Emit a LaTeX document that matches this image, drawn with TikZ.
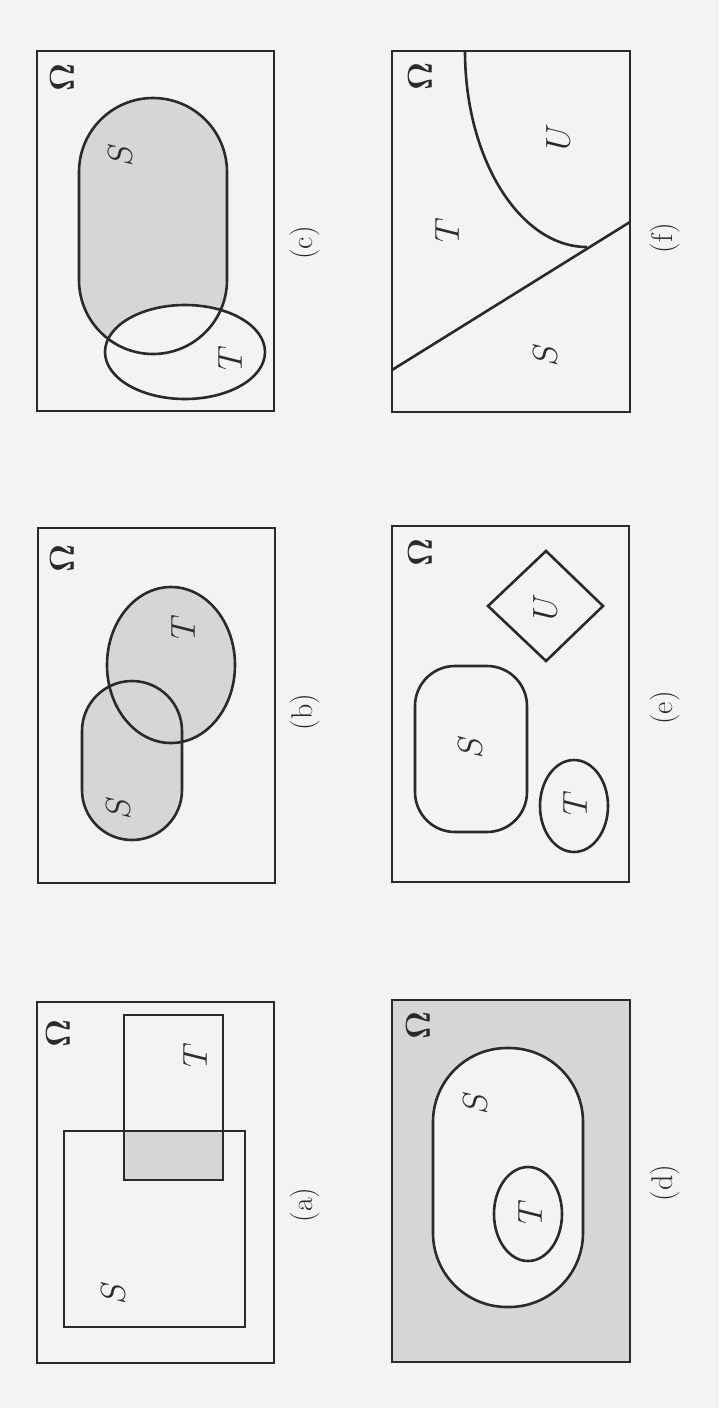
\documentclass[tikz,border=0pt]{standalone}
\definecolor{bgc}{HTML}{F3F3F3}
\definecolor{shgray}{HTML}{D6D6D6}
\definecolor{ink}{HTML}{2A2A2A}
\tikzset{
  frame/.style={draw=ink, line width=1.3pt},
  setline/.style={draw=ink, line width=1.3pt},
  grayfill/.style={fill=shgray},
  lbl/.style={rotate=90, inner sep=0pt, text=ink, font=\fontsize{16}{18}\selectfont},
  omg/.style={rotate=90, inner sep=0pt, text=ink, font=\fontsize{16}{18}\selectfont},
  captxt/.style={rotate=90, inner sep=0pt, text=ink, font=\fontsize{15}{18}\selectfont}
}
\begin{document}
\begin{tikzpicture}[x=0.5pt,y=-0.5pt]
\fill[bgc] (0,0) rectangle (719,1408);
\useasboundingbox (0,0) rectangle (719,1408);

% ---------- (c) ----------
\path[grayfill, rounded corners=37pt] (79,98) rectangle (227,354);
\fill[bgc] (185,352) ellipse [x radius=80, y radius=47];
\draw[setline, rounded corners=37pt] (79,98) rectangle (227,354);
\draw[setline] (185,352) ellipse [x radius=80, y radius=47];
\draw[frame] (37,51) rectangle (274,411);
\node[omg] (omc) at (62,77) {$\mathbf{\Omega}$};
\node[lbl] (sc) at (120,155) {$S$};
\node[lbl] (tc) at (230,358) {$T$};
\node[captxt] (capc) at (305,243) {(c)};

% ---------- (f) ----------
\draw[frame] (392,51) rectangle (630,412);
\draw[setline] (392,370) -- (630,222);
\draw[setline] (465,51) .. controls (465,159) and (520,247) .. (587,247);
\node[omg] (omf) at (420,76) {$\mathbf{\Omega}$};
\node[lbl] (tf) at (447,230) {$T$};
\node[lbl] (uf) at (558,137) {$U$};
\node[lbl] (sf) at (545,355) {$S$};
\node[captxt] (capf) at (665,238) {(f)};

% ---------- (b) ----------
\path[grayfill, rounded corners=25pt] (82,681) rectangle (182,840);
\path[grayfill] (171,665) ellipse [x radius=64, y radius=78];
\draw[setline, rounded corners=25pt] (82,681) rectangle (182,840);
\draw[setline] (171,665) ellipse [x radius=64, y radius=78];
\draw[frame] (38,528) rectangle (275,883);
\node[omg] (omb) at (62,558) {$\mathbf{\Omega}$};
\node[lbl] (sb) at (118,808) {$S$};
\node[lbl] (tb) at (183,627) {$T$};
\node[captxt] (capb) at (305,712) {(b)};

% ---------- (e) ----------
\draw[frame] (392,526) rectangle (629,882);
\draw[setline] (546,551) -- (603,606) -- (546,661) -- (488,606) -- cycle;
\draw[setline, rounded corners=20pt] (415,666) rectangle (527,832);
\draw[setline] (574,806) ellipse [x radius=34, y radius=46];
\node[omg] (ome) at (420,552) {$\mathbf{\Omega}$};
\node[lbl] (ue) at (545,607) {$U$};
\node[lbl] (se) at (470,747) {$S$};
\node[lbl] (te) at (575,803) {$T$};
\node[captxt] (cape) at (665,708) {(e)};

% ---------- (a) ----------
\path[grayfill] (124,1131) rectangle (223,1180);
\draw[setline] (64,1131) rectangle (245,1327);
\draw[setline] (124,1015) rectangle (223,1180);
\draw[frame] (37,1002) rectangle (274,1363);
\node[omg] (oma) at (58,1033) {$\mathbf{\Omega}$};
\node[lbl] (sa) at (113,1293) {$S$};
\node[lbl] (ta) at (195,1055) {$T$};
\node[captxt] (capa) at (305,1205) {(a)};

% ---------- (d) ----------
\path[grayfill] (392,1000) rectangle (630,1362);
\fill[bgc, rounded corners=37pt] (433,1048) rectangle (583,1307);
\draw[setline, rounded corners=37pt] (433,1048) rectangle (583,1307);
\draw[setline] (528,1214) ellipse [x radius=34, y radius=47];
\draw[frame] (392,1000) rectangle (630,1362);
\node[omg] (omd) at (418,1025) {$\mathbf{\Omega}$};
\node[lbl] (sd) at (475,1103) {$S$};
\node[lbl] (td) at (530,1212) {$T$};
\node[captxt] (capd) at (665,1183) {(d)};
\end{tikzpicture}
\end{document}
